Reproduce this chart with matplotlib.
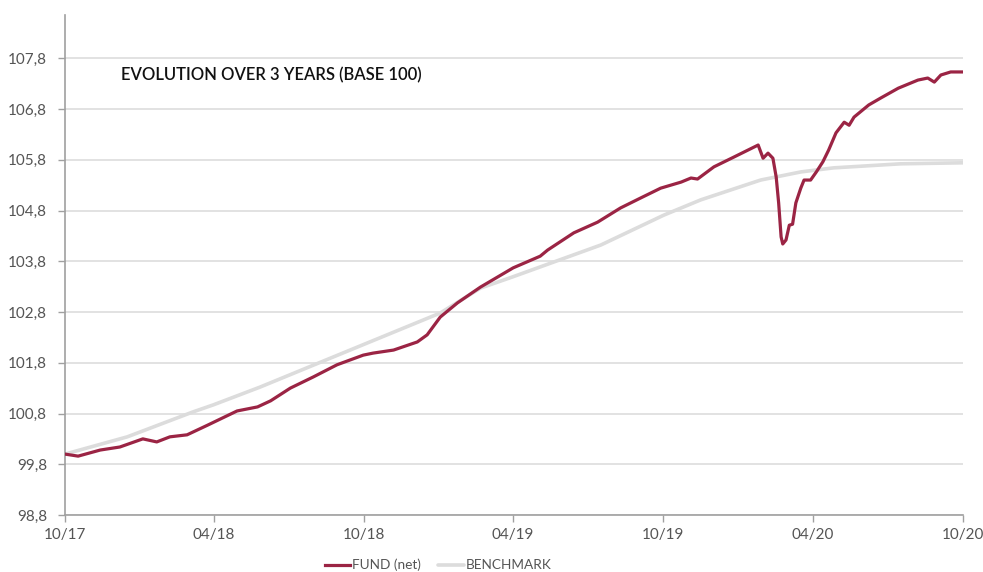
import numpy as np
import pandas as pd
import matplotlib
matplotlib.use("Agg")
from matplotlib import pyplot as plt
import matplotlib.dates as mdates
from matplotlib.ticker import FuncFormatter

plt.rcParams['font.family'] = ['Lato', 'DejaVu Sans']

# values (base 100)
fund_dates = ["2017-10-01", "2017-10-17", "2017-11-13", "2017-12-07", "2018-01-04",
              "2018-01-21", "2018-02-06", "2018-02-27", "2018-03-24", "2018-04-29",
              "2018-05-24", "2018-06-09", "2018-07-03", "2018-07-31", "2018-08-29",
              "2018-09-30", "2018-10-12", "2018-11-06", "2018-12-05", "2018-12-17",
              "2019-01-02", "2019-01-23", "2019-02-20", "2019-04-01", "2019-05-04",
              "2019-05-13", "2019-06-14", "2019-07-13", "2019-08-10", "2019-09-04",
              "2019-09-28", "2019-10-23", "2019-11-04", "2019-11-12", "2019-12-02",
              "2019-12-26", "2020-01-25", "2020-01-31", "2020-02-06", "2020-02-12",
              "2020-02-16", "2020-02-19", "2020-02-22", "2020-02-24", "2020-02-28",
              "2020-03-03", "2020-03-07", "2020-03-11", "2020-03-17", "2020-03-21",
              "2020-03-29", "2020-04-05", "2020-04-13", "2020-04-20", "2020-04-29",
              "2020-05-09", "2020-05-15", "2020-05-21", "2020-06-08", "2020-06-23",
              "2020-07-14", "2020-08-07", "2020-08-19", "2020-08-27", "2020-09-04",
              "2020-09-16", "2020-10-01"]
fund_values = [100.00, 99.96, 100.08, 100.14, 100.30,
               100.24, 100.34, 100.38, 100.57, 100.85,
               100.93, 101.05, 101.30, 101.52, 101.76,
               101.95, 101.99, 102.05, 102.21, 102.35,
               102.70, 102.98, 103.29, 103.67, 103.90,
               104.02, 104.36, 104.57, 104.85, 105.05,
               105.24, 105.36, 105.44, 105.42, 105.66,
               105.85, 106.09, 105.83, 105.93, 105.83,
               105.46, 104.95, 104.28, 104.14, 104.22,
               104.51, 104.53, 104.95, 105.24, 105.40,
               105.40, 105.56, 105.76, 105.99, 106.33,
               106.54, 106.48, 106.64, 106.88, 107.02,
               107.21, 107.37, 107.41, 107.33, 107.47,
               107.53, 107.53]

bench_dates = ["2017-10-01", "2017-12-16", "2018-03-06", "2018-03-31", "2018-05-27",
               "2018-09-26", "2019-01-02", "2019-02-20", "2019-03-31", "2019-07-17",
               "2019-10-02", "2019-11-16", "2020-01-28", "2020-03-17", "2020-04-26",
               "2020-07-17", "2020-10-01"]
bench_values = [100.00, 100.34, 100.83, 100.97, 101.32,
                102.13, 102.78, 103.27, 103.49, 104.12,
                104.71, 105.01, 105.40, 105.56, 105.64,
                105.72, 105.74]

tick_dates = ["2017-10-01", "2018-04-01", "2018-10-01", "2019-04-01",
              "2019-10-01", "2020-04-01", "2020-10-01"]
tick_labels = ["10/17", "04/18", "10/18", "04/19", "10/19", "04/20", "10/20"]
y_ticks = [98.8, 99.8, 100.8, 101.8, 102.8, 103.8, 104.8, 105.8, 106.8, 107.8]

fund_color = '#9b2444'
bench_color = '#dcdcdc'
axis_grey = '#a0a0a0'
text_grey = '#555555'

fig = plt.figure(figsize=(9.83, 5.72), dpi=100)
ax = fig.add_axes([65/983, 1-515/572, (963-65)/983, (515-15)/572])

ax.plot(pd.to_datetime(bench_dates), bench_values, color=bench_color, lw=2.6,
        label='BENCHMARK', zorder=2, solid_capstyle='round')
ax.plot(pd.to_datetime(fund_dates), fund_values, color=fund_color, lw=2.3,
        label='FUND (net)', zorder=3, solid_joinstyle='round')

ax.set_xlim(pd.Timestamp("2017-10-01"), pd.Timestamp("2020-10-01"))
ax.set_ylim(98.8, 98.8 + 500/50.75)

ax.set_yticks(y_ticks)
ax.yaxis.set_major_formatter(FuncFormatter(lambda v, p: ('%.1f' % v).replace('.', ',')))
ax.set_xticks(pd.to_datetime(tick_dates))
ax.set_xticklabels(tick_labels)

ax.grid(axis='y', color='#dddddd', lw=1.2)
ax.set_axisbelow(True)
for s in ['top', 'right']:
    ax.spines[s].set_visible(False)
for s in ['left', 'bottom']:
    ax.spines[s].set_color(axis_grey)
    ax.spines[s].set_linewidth(1.2)
ax.tick_params(axis='both', colors=axis_grey, length=5, width=1.0,
               labelcolor=text_grey, labelsize=11)
ax.tick_params(axis='y', pad=8)
ax.tick_params(axis='x', pad=4)

ax.text(121/983, 1-75/572, 'EVOLUTION OVER 3 YEARS (BASE 100)', transform=fig.transFigure,
        fontsize=12, color='#111111', va='center', ha='left', fontweight='semibold')

h, l = ax.get_legend_handles_labels()
leg = fig.legend(h[::-1], l[::-1], loc='center', bbox_to_anchor=(438/983, 1-565/572), ncol=2,
                 frameon=False, fontsize=9.8, handlelength=1.9, handletextpad=0.15,
                 columnspacing=1.2, borderaxespad=0)
for t in leg.get_texts():
    t.set_color(text_grey)

fig.savefig('out.png', dpi=100)
